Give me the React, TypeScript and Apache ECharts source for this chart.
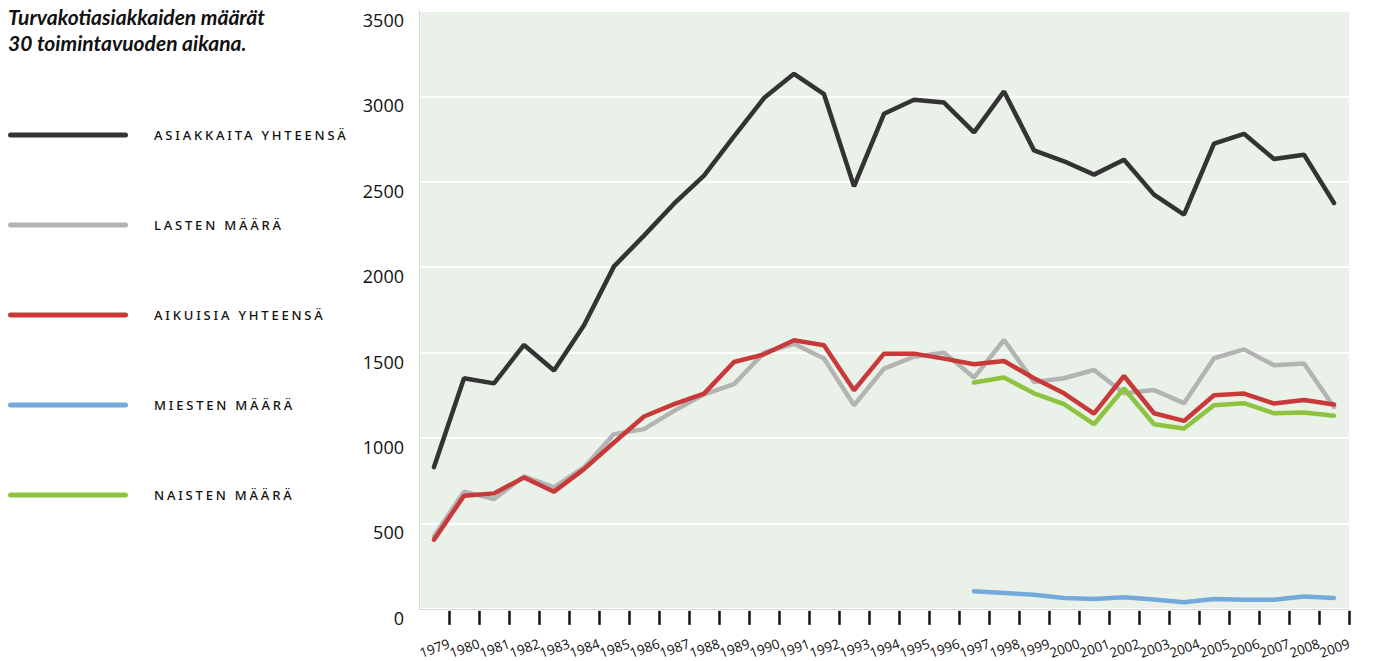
import React, { useEffect, useRef } from 'react';
import * as echarts from 'echarts';

const years = ['1979','1980','1981','1982','1983','1984','1985','1986','1987','1988','1989','1990','1991','1992','1993','1994','1995','1996','1997','1998','1999','2000','2001','2002','2003','2004','2005','2006','2007','2008','2009'];

const yTicks = { min: 0, max: 3500, interval: 500 };

const seriesNames = ['ASIAKKAITA YHTEENSÄ', 'LASTEN MÄÄRÄ', 'AIKUISIA YHTEENSÄ', 'MIESTEN MÄÄRÄ', 'NAISTEN MÄÄRÄ'];

const totalClients = [830,1350,1320,1545,1395,1660,2005,2185,2372,2536,2766,2990,3132,3013,2473,2898,2980,2964,2789,3029,2684,2620,2542,2629,2425,2308,2723,2781,2633,2659,2376];
const children = [425,686,643,775,711,828,1023,1052,1159,1256,1315,1500,1552,1465,1192,1406,1476,1500,1354,1574,1328,1350,1398,1262,1281,1204,1467,1519,1426,1436,1182];
const adults = [405,662,676,769,686,818,974,1126,1198,1260,1445,1490,1572,1543,1280,1494,1494,1465,1432,1451,1350,1262,1143,1363,1145,1100,1250,1260,1202,1223,1196];
const men = [null,null,null,null,null,null,null,null,null,null,null,null,null,null,null,null,null,null,103,93,82,64,58,68,54,39,58,53,53,72,64];
const women = [null,null,null,null,null,null,null,null,null,null,null,null,null,null,null,null,null,null,1325,1354,1262,1198,1081,1290,1081,1056,1192,1204,1145,1149,1130];

const colors = ['#333333', '#b3b3b3', '#c83a3a', '#74a9dc', '#8cc43f'];
const values = [totalClients, children, adults, men, women];

export default function App() {
  const ref = useRef<HTMLDivElement>(null);
  useEffect(() => {
    document.body.style.margin = '0';
    const chart = echarts.init(ref.current!, null, { renderer: 'svg' });
    const option: any = {
      animation: false,
      title: {
        text: 'Turvakotiasiakkaiden määrät\n30 toimintavuoden aikana.',
        left: 8,
        top: 3,
        padding: 0,
        textStyle: { fontFamily: 'Lato', fontStyle: 'italic', fontWeight: 'bold', fontSize: 21, lineHeight: 26, color: '#111' },
      },
      legend: {
        orient: 'vertical',
        left: 8,
        top: 127,
        padding: 0,
        itemWidth: 120,
        itemHeight: 5,
        itemGap: 74,
        icon: 'path://M2.5,0H117.5A2.5,2.5,0,0,1,117.5,5H2.5A2.5,2.5,0,0,1,2.5,0Z',
        itemStyle: { borderWidth: 0 },
        selectedMode: false,
        data: seriesNames,
        textStyle: { fontFamily: 'Noto Sans', fontSize: 13, fontWeight: 500, color: '#111', lineHeight: 16, padding: [0, 0, 0, 21] },
      },
      grid: {
        left: 419, right: 25, top: 11, bottom: 51,
        show: true, backgroundColor: '#eaf1e9', borderWidth: 0,
      },
      xAxis: [
        {
          type: 'category', data: years, boundaryGap: true, position: 'bottom',
          axisLine: { show: true, lineStyle: { color: '#d3d8d3', width: 1 } },
          axisTick: { show: false }, axisLabel: { show: false }, splitLine: { show: false },
        },
        {
          type: 'category', data: [''].concat(years), boundaryGap: false, position: 'bottom', offset: 2,
          axisLine: { show: false },
          axisTick: { show: true, length: 14, interval: (i: number) => i > 0, lineStyle: { color: '#111', width: 2.5 } },
          axisLabel: { interval: 0, rotate: 20, margin: 32, fontFamily: 'Open Sans', fontSize: 13.5, color: '#111' },
          splitLine: { show: false },
        },
      ],
      yAxis: {
        type: 'value', min: yTicks.min, max: yTicks.max, interval: yTicks.interval,
        axisLine: { show: true, lineStyle: { color: '#d3d8d3', width: 1 } },
        axisTick: { show: false },
        axisLabel: { fontFamily: 'Open Sans', fontSize: 18, color: '#111', margin: 15, verticalAlign: 'top', formatter: (v: number) => String(v) },
        splitLine: { show: true, lineStyle: { color: '#ffffff', width: 2 } },
      },
      series: seriesNames.map((name, i) => ({
        name,
        type: 'line',
        xAxisIndex: 0,
        data: values[i],
        showSymbol: false,
        symbol: 'none',
        color: colors[i],
        lineStyle: { color: colors[i], width: 4.5, cap: 'round' },
        z: i === 2 ? 5 : 3,
      })),
    };
    chart.setOption(option);
    return () => chart.dispose();
  }, []);
  return (
    <>
      <style>{`.chart-box text[style*="Noto Sans"]{letter-spacing:2.8px;}`}</style>
      <div ref={ref} className="chart-box" style={{ width: 1374, height: 661 }} />
    </>
  );
}
